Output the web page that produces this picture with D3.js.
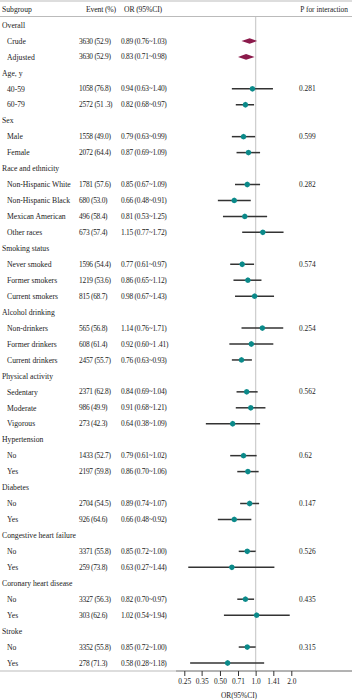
<!DOCTYPE html>
<html>
<head>
<meta charset="utf-8">
<script src="https://cdn.jsdelivr.net/npm/d3@7/dist/d3.min.js"></script>
<style>
  html, body { margin: 0; padding: 0; background: #fff; }
  svg { display: block; }
  text { font-family: "Liberation Serif", "DejaVu Serif", serif; fill: #222; }
</style>
</head>
<body>
<svg id="chart" width="352" height="700"></svg>
<script>
// ---------- data ----------
const groups = ["Overall", "Age, y", "Sex", "Race and ethnicity", "Smoking status",
  "Alcohol drinking", "Physical activity", "Hypertension", "Diabetes",
  "Congestive heart failure", "Coronary heart disease", "Stroke"];
const groupSizes = [2, 2, 2, 4, 3, 3, 3, 2, 2, 2, 2, 2];
const pInteraction = ["", "0.281", "0.599", "0.282", "0.574", "0.254", "0.562", "0.62", "0.147", "0.526", "0.435", "0.315"];

const subgroups = ["Crude", "Adjusted", "40-59", "60-79", "Male", "Female",
  "Non-Hispanic White", "Non-Hispanic Black", "Mexican American", "Other races",
  "Never smoked", "Former smokers", "Current smokers",
  "Non-drinkers", "Former drinkers", "Current drinkers",
  "Sedentary", "Moderate", "Vigorous",
  "No", "Yes", "No", "Yes", "No", "Yes", "No", "Yes", "No", "Yes"];
const events = ["3630 (52.9)", "3630 (52.9)", "1058 (76.8)", "2572 (51 .3)", "1558 (49.0)", "2072 (64.4)",
  "1781 (57.6)", "680 (53.0)", "496 (58.4)", "673 (57.4)",
  "1596 (54.4)", "1219 (53.6)", "815 (68.7)",
  "565 (56.8)", "608 (61.4)", "2457 (55.7)",
  "2371 (62.8)", "986 (49.9)", "273 (42.3)",
  "1433 (52.7)", "2197 (59.8)", "2704 (54.5)", "926 (64.6)", "3371 (55.8)", "259 (73.8)",
  "3327 (56.3)", "303 (62.6)", "3352 (55.8)", "278 (71.3)"];
const orValues = [0.89, 0.83, 0.94, 0.82, 0.79, 0.87, 0.85, 0.66, 0.81, 1.15,
  0.77, 0.86, 0.98, 1.14, 0.92, 0.76, 0.84, 0.91, 0.64,
  0.79, 0.86, 0.89, 0.66, 0.85, 0.63, 0.82, 1.02, 0.85, 0.58];
const lowerCI = [0.76, 0.71, 0.63, 0.68, 0.63, 0.69, 0.67, 0.48, 0.53, 0.77,
  0.61, 0.65, 0.67, 0.76, 0.60, 0.63, 0.69, 0.68, 0.38,
  0.61, 0.70, 0.74, 0.48, 0.72, 0.27, 0.70, 0.54, 0.72, 0.28];
const upperCI = [1.03, 0.98, 1.40, 0.97, 0.99, 1.09, 1.09, 0.91, 1.25, 1.72,
  0.97, 1.12, 1.43, 1.71, 1.41, 0.93, 1.04, 1.21, 1.09,
  1.02, 1.06, 1.07, 0.92, 1.00, 1.44, 0.97, 1.94, 1.00, 1.18];
const orLabels = ["0.89 (0.76~1.03)", "0.83 (0.71~0.98)", "0.94 (0.63~1.40)", "0.82 (0.68~0.97)",
  "0.79 (0.63~0.99)", "0.87 (0.69~1.09)", "0.85 (0.67~1.09)", "0.66 (0.48~0.91)",
  "0.81 (0.53~1.25)", "1.15 (0.77~1.72)", "0.77 (0.61~0.97)", "0.86 (0.65~1.12)",
  "0.98 (0.67~1.43)", "1.14 (0.76~1.71)", "0.92 (0.60~1 .41)", "0.76 (0.63~0.93)",
  "0.84 (0.69~1.04)", "0.91 (0.68~1.21)", "0.64 (0.38~1.09)", "0.79 (0.61~1.02)",
  "0.86 (0.70~1.06)", "0.89 (0.74~1.07)", "0.66 (0.48~0.92)", "0.85 (0.72~1.00)",
  "0.63 (0.27~1.44)", "0.82 (0.70~0.97)", "1.02 (0.54~1.94)", "0.85 (0.72~1.00)",
  "0.58 (0.28~1.18)"];
const tickValues = [0.25, 0.35, 0.5, 0.71, 1.0, 1.41, 2.0];
const tickLabels = ["0.25", "0.35", "0.50", "0.71", "1.0", "1.41", "2.0"];
const headers = ["Subgroup", "Event (%)", "OR (95%CI)", "P for interaction"];
const axisTitle = "OR(95%CI)";

// ---------- build rows ----------
const rows = [];
let k = 0;
groups.forEach((g, gi) => {
  rows.push({ type: "group", label: g });
  for (let j = 0; j < groupSizes[gi]; j++, k++) {
    rows.push({
      type: gi === 0 ? "overall" : "item",
      label: subgroups[k], event: events[k], or: orValues[k],
      lo: lowerCI[k], hi: upperCI[k], orLabel: orLabels[k],
      p: j === 0 ? pInteraction[gi] : ""
    });
  }
});

// ---------- layout ----------
const W = 352;
const fs = 7.7;     // label font size
const fn = 7.4;     // numeric column font size
const svg = d3.select("#chart");
const y = d3.scalePoint().domain(d3.range(rows.length)).range([25, 663]);
const x = d3.scaleLog().base(2).domain([0.25, 2]).range([184.3, 291.3]);
const axisY = 671;

// header lines
svg.append("line").attr("x1", 0).attr("x2", W).attr("y1", 1).attr("y2", 1)
  .attr("stroke", "#bbb").attr("stroke-width", 1);
svg.append("line").attr("x1", 0).attr("x2", W).attr("y1", 16.5).attr("y2", 16.5)
  .attr("stroke", "#bbb").attr("stroke-width", 1);

// headers
const hy = 9.5;
svg.append("text").attr("x", 2).attr("y", hy).attr("dy", "0.35em").attr("font-size", fs).text(headers[0]);
svg.append("text").attr("x", 86).attr("y", hy).attr("dy", "0.35em").attr("font-size", fs)
  .attr("letter-spacing", -0.15).text(headers[1]);
svg.append("text").attr("x", 124).attr("y", hy).attr("dy", "0.35em").attr("font-size", fs)
  .attr("letter-spacing", -0.15).text(headers[2]);
svg.append("text").attr("x", 348).attr("y", hy).attr("dy", "0.35em").attr("text-anchor", "end")
  .attr("font-size", 7.4).text(headers[3]);

// reference line at OR = 1
svg.append("line").attr("x1", x(1)).attr("x2", x(1)).attr("y1", 17).attr("y2", axisY)
  .attr("stroke", "#cfcfcf").attr("stroke-width", 1.3);

// row labels
const rowG = svg.append("g").selectAll("g").data(rows).join("g")
  .attr("transform", (d, i) => `translate(0,${y(i)})`);

rowG.append("text")
  .attr("x", d => d.type === "group" ? 2 : 7)
  .attr("dy", "0.35em").attr("font-size", fs)
  .text(d => d.label);

rowG.filter(d => d.type !== "group").append("text")
  .attr("x", 79).attr("dy", "0.35em").attr("font-size", fn).attr("letter-spacing", -0.25)
  .text(d => d.event);

rowG.filter(d => d.type !== "group").append("text")
  .attr("x", 121).attr("dy", "0.35em").attr("font-size", fn).attr("letter-spacing", -0.25)
  .text(d => d.orLabel);

rowG.filter(d => d.p).append("text")
  .attr("x", 299).attr("dy", "0.35em").attr("font-size", fn)
  .text(d => d.p);

// overall diamonds (span the CI)
rowG.filter(d => d.type === "overall").append("path")
  .attr("d", d => `M${x(d.lo)},0 L${x(d.or)},-2.8 L${x(d.hi)},0 L${x(d.or)},2.8 Z`)
  .attr("fill", "#8b1a4b");

// CI lines
const items = rowG.filter(d => d.type === "item");
items.append("line")
  .attr("x1", d => x(d.lo)).attr("x2", d => x(d.hi))
  .attr("stroke", "#333").attr("stroke-width", 1.5);
items.append("path")
  .attr("d", d => {
    const cx = x(d.or), r = 2.9, s = 2.0;
    return `M${cx - r},0 L${cx - s},${-s} L${cx},${-r} L${cx + s},${-s} L${cx + r},0 L${cx + s},${s} L${cx},${r} L${cx - s},${s} Z`;
  })
  .attr("fill", "#0b8a8a");

// bottom border / axis line
svg.append("line").attr("x1", 0).attr("x2", 176).attr("y1", axisY).attr("y2", axisY)
  .attr("stroke", "#bbb").attr("stroke-width", 1);
svg.append("line").attr("x1", 176).attr("x2", W).attr("y1", axisY).attr("y2", axisY)
  .attr("stroke", "#666").attr("stroke-width", 1);

const axis = d3.axisBottom(x).tickValues(tickValues)
  .tickFormat((d, i) => tickLabels[i]).tickSize(5).tickSizeOuter(0);
const ag = svg.append("g").attr("transform", `translate(0,${axisY})`).call(axis);
ag.select(".domain").remove();
ag.selectAll(".tick line").attr("stroke", "#333");
ag.selectAll(".tick text").attr("font-size", fn).attr("y", 8)
  .attr("font-family", "Liberation Serif, DejaVu Serif, serif").attr("fill", "#222");

svg.append("text").attr("x", 239).attr("y", 695).attr("dy", "0.35em")
  .attr("text-anchor", "middle").attr("font-size", fn).text(axisTitle);
</script>
</body>
</html>
